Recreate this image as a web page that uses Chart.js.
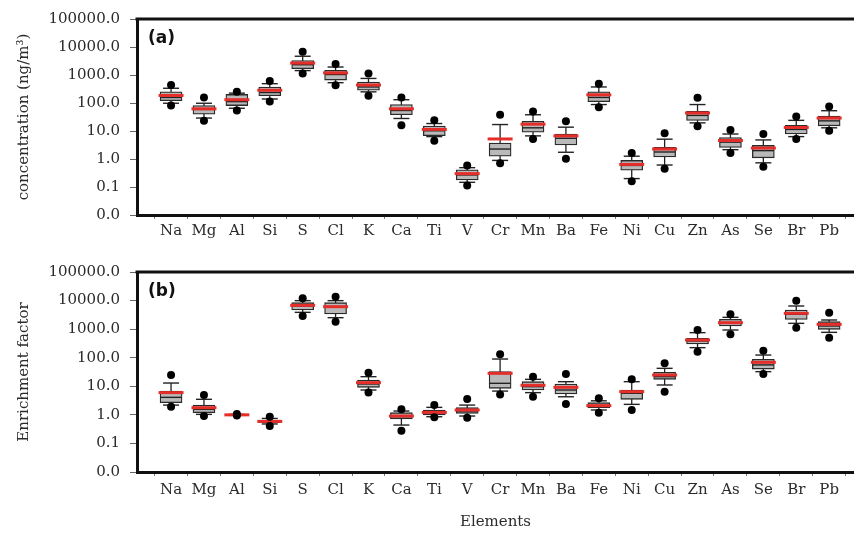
<!DOCTYPE html>
<html>
<head>
<meta charset="utf-8">
<script src="https://cdn.jsdelivr.net/npm/chart.js@4/dist/chart.umd.min.js"></script>
<style>
  html, body { margin: 0; padding: 0; background: #fff; overflow: hidden; }
  #wrap { position: relative; width: 854px; height: 534px; }
  .panel { position: absolute; left: 0; width: 854px; }
</style>
</head>
<body>
<div id="wrap">
  <div class="panel" style="top:0;height:252px"><canvas id="chartA" width="854" height="252"></canvas></div>
  <div class="panel" style="top:252px;height:282px"><canvas id="chartB" width="854" height="282"></canvas></div>
</div>
<script>
// Elements on the x axis
const elements = ['Na','Mg','Al','Si','S','Cl','K','Ca','Ti','V','Cr','Mn','Ba','Fe','Ni','Cu','Zn','As','Se','Br','Pb'];

// Log-scale y ticks and their printed labels
const yTickValues = [0.01, 0.1, 1, 10, 100, 1000, 10000, 100000];
const yTickLabels = ['0.0', '0.1', '1.0', '10.0', '100.0', '1000.0', '10000.0', '100000.0'];

// (a) concentration, ng/m3 — percentiles, quartiles and mean per element
const concP95  = [440, 158, 250, 607, 6800, 2455, 1127, 158, 24, 0.59, 38, 50, 22.3, 490, 1.65, 8.3, 154, 10.8, 7.8, 33, 75];
const concP90  = [336, 98, 225, 490, 4677, 1928, 754, 131, 18.5, 0.49, 17, 38, 13.7, 374, 1.26, 5.1, 88, 7.8, 4.8, 24, 53];
const concQ3   = [250, 81, 202, 374, 3300, 1473, 560, 88, 14.9, 0.41, 3.7, 22.3, 7.8, 250, 0.89, 2.6, 50, 5.8, 3.05, 16, 34];
const concMed  = [158, 59, 112, 237, 2327, 1040, 374, 54, 10.2, 0.27, 2.27, 13, 5.5, 158, 0.59, 1.78, 36, 4.0, 1.99, 11.4, 23];
const concQ1   = [121, 40, 81, 181, 1686, 658, 286, 38, 6.8, 0.18, 1.26, 9, 3.2, 112, 0.40, 1.19, 24, 2.6, 1.1, 7.8, 15.3];
const concP10  = [98, 29, 65, 139, 1436, 531, 250, 28, 6.3, 0.147, 0.89, 6.7, 1.74, 88, 0.20, 0.61, 19.5, 2.15, 0.73, 6.3, 13];
const concP5   = [81, 23, 54, 112, 1127, 428, 181, 16, 4.45, 0.112, 0.70, 5.2, 1.02, 71, 0.16, 0.45, 14.9, 1.65, 0.53, 5.2, 10.2];
const concMean = [186, 62, 131, 286, 2660, 1189, 440, 62, 11.4, 0.30, 5.2, 17.5, 6.7, 196, 0.64, 2.27, 44, 4.57, 2.46, 13.4, 29];

// (b) enrichment factor — percentiles, quartiles and mean per element
const efP95  = [24.8, 4.95, 1.08, 0.86, 11970, 13700, 30, 1.56, 2.2, 3.6, 131, 21.7, 26.9, 3.8, 17.5, 63.5, 933, 3300, 177, 9930, 3775];
const efP90  = [13, 3.5, 1.04, 0.75, 9930, 9930, 21.7, 1.36, 1.83, 2.2, 90, 17.5, 14.5, 3.1, 14.5, 42.5, 753, 2590, 124, 6460, 2090];
const efQ3   = [6.8, 2.2, 1.02, 0.66, 8450, 8450, 16.6, 1.19, 1.48, 1.78, 32.5, 14.5, 12, 2.67, 7.4, 30.8, 477, 2200, 88, 4680, 1828];
const efMed  = [4.1, 1.56, 1.0, 0.58, 6450, 5800, 12, 0.86, 1.19, 1.36, 12.7, 9.7, 7.4, 2.04, 5.7, 21.7, 385, 1597, 56, 3300, 1288];
const efQ1   = [2.67, 1.19, 0.98, 0.53, 4680, 3390, 9.2, 0.72, 0.99, 1.13, 8.5, 7.4, 5.4, 1.78, 3.5, 17.5, 302, 1288, 40, 2200, 985];
const efP10  = [2.2, 1.04, 0.96, 0.48, 3875, 2520, 7.4, 0.44, 0.86, 0.91, 6.8, 6.0, 4.3, 1.48, 2.33, 11.1, 225, 933, 32.5, 1597, 773];
const efP5   = [1.94, 0.91, 0.95, 0.41, 2884, 1830, 6.0, 0.28, 0.82, 0.80, 5.2, 4.3, 2.4, 1.19, 1.48, 6.5, 163, 658, 27, 1127, 504];
const efMean = [6.0, 1.78, 1.0, 0.59, 6810, 6120, 13.4, 0.91, 1.22, 1.48, 28.4, 10.8, 9.2, 2.1, 6.5, 24.8, 417, 1686, 69, 3575, 1473];

const INK = '#222';
const TEXT = '#2b2b2b';
const SERIF = '"DejaVu Serif", serif';

Chart.defaults.font.family = SERIF;
Chart.defaults.color = TEXT;

// Frame line along the top of the plot area plus the panel tag
const panelDecor = {
  id: 'panelDecor',
  afterDraw(chart, args, opts) {
    const { ctx, chartArea } = chart;
    ctx.save();
    ctx.strokeStyle = '#111';
    ctx.lineWidth = 3;
    ctx.beginPath();
    ctx.moveTo(chartArea.left - 1.5, chartArea.top);
    ctx.lineTo(chartArea.right, chartArea.top);
    ctx.stroke();
    ctx.fillStyle = '#111';
    ctx.font = 'bold 17px "DejaVu Sans", sans-serif';
    ctx.textBaseline = 'middle';
    ctx.textAlign = 'left';
    ctx.fillText(opts.tag, chartArea.left + 11, chartArea.top + 20);
    ctx.restore();
  }
};

function boxChart(canvasId, s, cfg) {
  const at = (arr) => arr.map((v, i) => ({ x: i + 1, y: v }));
  const whiskers = [];
  elements.forEach((e, i) => {
    whiskers.push({ x: i + 1, y: s.p10[i] }, { x: i + 1, y: s.p90[i] }, { x: i + 1, y: null });
  });

  return new Chart(document.getElementById(canvasId), {
    type: 'bar',
    data: {
      datasets: [
        {
          type: 'line', data: whiskers, borderColor: INK, borderWidth: 1.3,
          pointRadius: 0, spanGaps: false, tension: 0, order: 7
        },
        {
          type: 'bar', data: elements.map((e, i) => ({ x: i + 1, y: [s.q1[i], s.q3[i]] })),
          backgroundColor: '#b9b9b9', borderColor: '#2a2a2a', borderWidth: 1.3,
          borderSkipped: false, barThickness: 22, grouped: false, order: 6
        },
        {
          type: 'scatter', data: at(s.p10).concat(at(s.p90)), pointStyle: 'line',
          pointRadius: 8, pointBorderWidth: 1.4, pointBorderColor: INK, order: 5
        },
        {
          type: 'scatter', data: at(s.med), pointStyle: 'line',
          pointRadius: 10.5, pointBorderWidth: 1.4, pointBorderColor: INK, order: 4
        },
        {
          type: 'scatter', data: at(s.mean), pointStyle: 'line',
          pointRadius: 12.5, pointBorderWidth: 3, pointBorderColor: '#e52e2a', order: 3
        },
        {
          type: 'scatter', data: at(s.p5).concat(at(s.p95)), pointStyle: 'circle',
          pointRadius: 4, pointBorderWidth: 0, pointBackgroundColor: '#000', order: 2
        }
      ]
    },
    options: {
      responsive: false,
      animation: false,
      events: [],
      layout: { autoPadding: false, padding: { top: cfg.top, right: 0, bottom: 0, left: 0 } },
      plugins: { legend: { display: false }, tooltip: { enabled: false }, panelDecor: { tag: cfg.tag } },
      scales: {
        x: {
          type: 'linear', offset: false, min: -0.035, max: 21.755,
          afterBuildTicks: (sc) => { sc.ticks = elements.map((e, i) => ({ value: i + 1 })); },
          afterFit: (sc) => { sc.height = cfg.xHeight; },
          grid: { drawOnChartArea: false, drawTicks: true, tickLength: 4, tickColor: '#777', tickWidth: 1 },
          border: { display: true, color: '#111', width: 3 },
          ticks: {
            autoSkip: false, maxRotation: 0, padding: cfg.xPad, color: TEXT,
            font: { family: SERIF, size: 15 },
            callback: (v) => elements[Math.round(v) - 1]
          },
          title: {
            display: !!cfg.xTitle, text: cfg.xTitle || '', color: TEXT,
            font: { family: SERIF, size: 15 }, padding: { top: 0, bottom: 3 }
          }
        },
        y: {
          type: 'logarithmic', min: 0.01, max: 100000,
          afterBuildTicks: (sc) => { sc.ticks = yTickValues.map((v) => ({ value: v })); },
          afterFit: (sc) => { sc.width = 137; },
          grid: { drawOnChartArea: false, drawTicks: true, tickLength: 7, tickColor: '#666', tickWidth: 1 },
          border: { display: true, color: '#111', width: 3 },
          ticks: {
            padding: 10, color: TEXT, font: { family: SERIF, size: 15 },
            callback: (v) => yTickLabels[yTickValues.indexOf(v)] ?? ''
          },
          title: {
            display: true, text: cfg.yTitle, color: TEXT,
            font: { family: SERIF, size: 15 }, padding: { top: 15, bottom: 0 }
          }
        }
      }
    },
    plugins: [panelDecor]
  });
}

boxChart('chartA',
  { p5: concP5, p10: concP10, q1: concQ1, med: concMed, q3: concQ3, p90: concP90, p95: concP95, mean: concMean },
  { tag: '(a)', top: 15, xHeight: 37, xPad: 3, yTitle: 'concentration (ng/m³)' });

boxChart('chartB',
  { p5: efP5, p10: efP10, q1: efQ1, med: efMed, q3: efQ3, p90: efP90, p95: efP95, mean: efMean },
  { tag: '(b)', top: 20, xHeight: 62, xPad: 5, yTitle: 'Enrichment factor', xTitle: 'Elements' });
</script>
</body>
</html>
